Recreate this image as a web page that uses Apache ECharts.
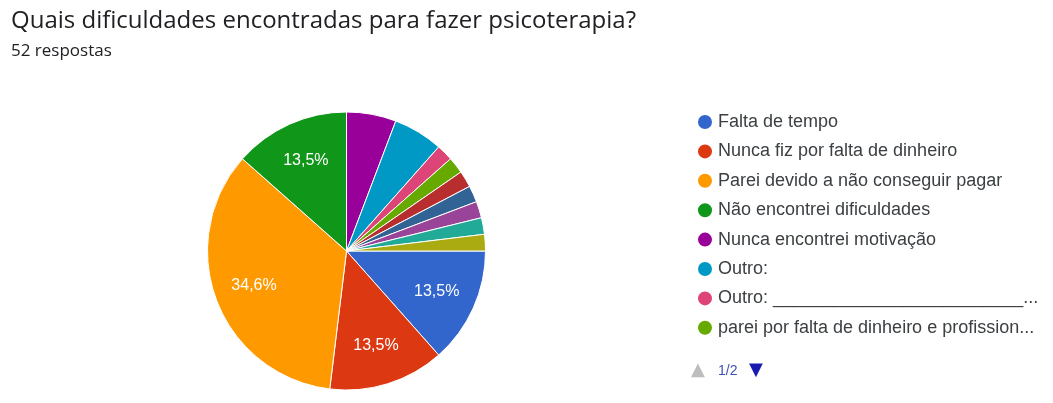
<!DOCTYPE html>
<html>
<head>
<meta charset="utf-8">
<script src="https://cdn.jsdelivr.net/npm/echarts@6/dist/echarts.min.js"></script>
<style>
  html, body { margin: 0; padding: 0; background: #fff; }
  #chart { width: 1053px; height: 403px; }
</style>
</head>
<body>
<div id="chart"></div>
<script>
// Survey answers: "Quais dificuldades encontradas para fazer psicoterapia?"
const titleText = 'Quais dificuldades encontradas para fazer psicoterapia?';
const subtitleText = '52 respostas';

const categories = [
  'Falta de tempo',
  'Nunca fiz por falta de dinheiro',
  'Parei devido a não conseguir pagar',
  'Não encontrei dificuldades',
  'Nunca encontrei motivação',
  'Outro:',
  'Outro: ____________________________________________',
  'parei por falta de dinheiro e profissionais disponíveis',
  'Falta de profissionais na minha cidade',
  'Não me adaptei ao profissional',
  'Horários incompatíveis',
  'Medo de começar',
  'Lista de espera muito longa'
];
const counts = [7, 7, 18, 7, 3, 3, 1, 1, 1, 1, 1, 1, 1];
const colors = ['#3366cc', '#dc3912', '#ff9900', '#109618', '#990099', '#0099c6',
  '#dd4477', '#66aa00', '#b82e2e', '#316395', '#994499', '#22aa99', '#aaaa11'];

// First legend page shows eight entries
const legendPageSize = 8;
const pagerText = '1/2';

const total = counts.reduce((a, b) => a + b, 0);
const pieData = categories.map((name, i) => ({ name, value: counts[i] }));

const chart = echarts.init(document.getElementById('chart'));
const center = [346.5, 251];
const outerR = 139;

chart.setOption({
  backgroundColor: '#ffffff',
  color: colors,
  animation: false,
  title: {
    text: titleText,
    subtext: subtitleText,
    left: 6,
    top: 4,
    itemGap: 10,
    textStyle: { fontFamily: 'Open Sans', fontSize: 24, fontWeight: 'normal', color: '#202124' },
    subtextStyle: { fontFamily: 'Open Sans', fontSize: 17, color: '#202124' }
  },
  legend: {
    orient: 'vertical',
    left: 691,
    top: 108,
    data: categories.slice(0, legendPageSize),
    icon: 'circle',
    itemWidth: 16,
    itemHeight: 16,
    itemGap: 11.4,
    selectedMode: false,
    textStyle: {
      fontFamily: 'Arial, Liberation Sans',
      fontSize: 18,
      color: '#3c4043',
      lineHeight: 18,
      width: 326,
      overflow: 'truncate',
      ellipsis: '...'
    }
  },
  graphic: [
    { type: 'text', left: 691, top: 361,
      style: { text: '▲', fontSize: 18, fill: '#bdbdbd', fontFamily: 'DejaVu Sans' } },
    { type: 'text', left: 718, top: 364,
      style: { text: pagerText, fontSize: 14, fill: '#3f51b5', fontFamily: 'Arial' } },
    { type: 'text', left: 749, top: 361,
      style: { text: '▼', fontSize: 18, fill: '#1a1ab0', fontFamily: 'DejaVu Sans' } }
  ],
  series: [
    {
      type: 'pie',
      center: center,
      radius: outerR,
      startAngle: 0,
      clockwise: true,
      data: pieData,
      label: { show: false },
      labelLine: { show: false },
      itemStyle: { borderColor: '#ffffff', borderWidth: 1 },
      emphasis: { disabled: true }
    },
    {
      // transparent ring that only carries the percentage labels
      type: 'pie',
      center: center,
      radius: [outerR * 0.38, outerR],
      startAngle: 0,
      clockwise: true,
      silent: true,
      data: pieData,
      itemStyle: { color: 'rgba(0,0,0,0)', borderWidth: 0 },
      labelLine: { show: false },
      label: {
        show: true,
        position: 'inside',
        color: '#ffffff',
        fontFamily: 'Arial, Liberation Sans',
        fontSize: 16,
        formatter: p => {
          const pct = p.value / total * 100;
          return pct >= 10 ? pct.toFixed(1).replace('.', ',') + '%' : '';
        }
      },
      emphasis: { disabled: true }
    }
  ]
});
</script>
</body>
</html>
